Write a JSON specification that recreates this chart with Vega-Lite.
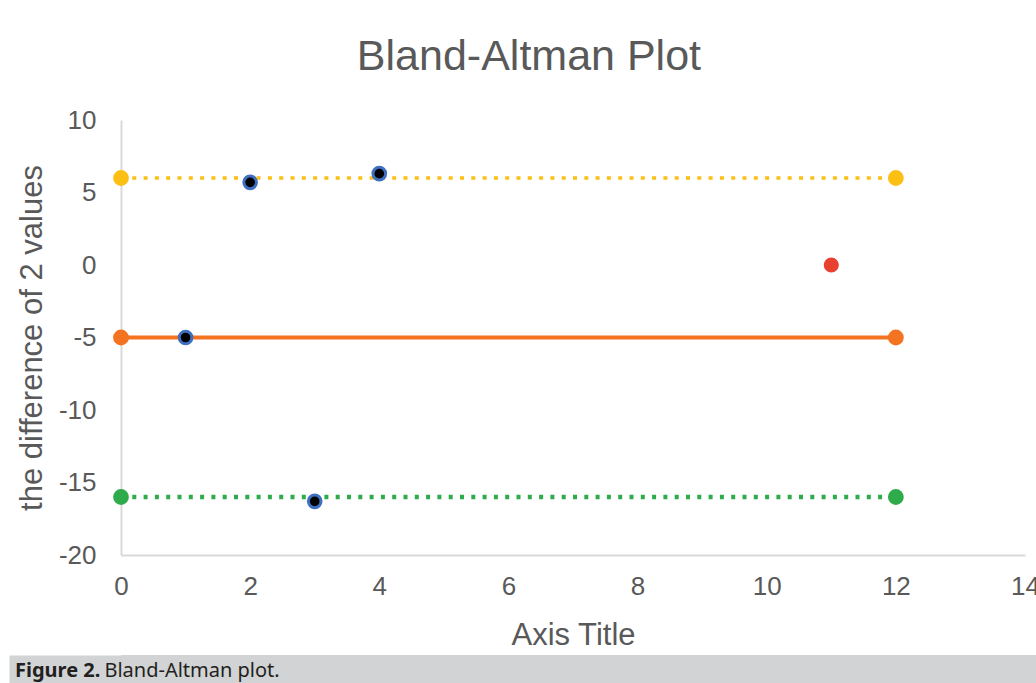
{
  "$schema": "https://vega.github.io/schema/vega-lite/v6.json",
  "background": "white",
  "padding": {"left": 8, "top": 36, "right": 0, "bottom": 0},
  "columns": 1,
  "spacing": 5,
  "config": {
    "view": {"stroke": null},
    "font": "Liberation Sans"
  },
  "title": {
    "text": "Bland-Altman plot.",
    "orient": "bottom",
    "anchor": "start",
    "frame": "bounds",
    "dx": 96,
    "offset": -25,
    "font": "Noto Sans",
    "fontSize": 20,
    "fontWeight": "normal",
    "color": "#231f20"
  },
  "datasets": {
    "bands": [
      {"band": "Upper limit", "x": 0, "y": 6},
      {"band": "Upper limit", "x": 12, "y": 6},
      {"band": "Mean", "x": 0, "y": -5},
      {"band": "Mean", "x": 12, "y": -5},
      {"band": "Lower limit", "x": 0, "y": -16},
      {"band": "Lower limit", "x": 12, "y": -16}
    ],
    "diffs": [
      {"x": 1, "y": -5},
      {"x": 2, "y": 5.7},
      {"x": 3, "y": -16.3},
      {"x": 4, "y": 6.3}
    ],
    "extra": [
      {"x": 11, "y": 0}
    ],
    "caption": [
      {"label": "caption"}
    ]
  },
  "concat": [
    {
      "width": 904,
      "height": 435,
      "title": {
        "text": "Bland-Altman Plot",
        "font": "Liberation Sans",
        "fontSize": 43,
        "fontWeight": "normal",
        "color": "#595959",
        "anchor": "middle",
        "frame": "bounds",
        "dx": 5,
        "offset": 28
      },
      "encoding": {
        "x": {
          "field": "x",
          "type": "quantitative",
          "scale": {"domain": [0, 14], "nice": false, "zero": false},
          "axis": {
            "title": "Axis Title",
            "values": [0, 2, 4, 6, 8, 10, 12, 14],
            "labelExpr": "'' + datum.value",
            "grid": false,
            "ticks": false,
            "domainColor": "#d9d9d9",
            "domainWidth": 2,
            "labelFont": "Liberation Sans",
            "labelFontSize": 26,
            "labelColor": "#595959",
            "labelPadding": 18,
            "labelFlush": false,
            "labelOverlap": false,
            "titleFont": "Liberation Sans",
            "titleFontSize": 31,
            "titleFontWeight": "normal",
            "titleColor": "#595959",
            "titlePadding": 21
          }
        },
        "y": {
          "field": "y",
          "type": "quantitative",
          "scale": {"domain": [-20, 10], "nice": false, "zero": false},
          "axis": {
            "title": [" ", "the difference of 2 values"],
            "titleLineHeight": 8,
            "values": [-20, -15, -10, -5, 0, 5, 10],
            "labelExpr": "'' + datum.value",
            "grid": false,
            "ticks": false,
            "domainColor": "#d9d9d9",
            "domainWidth": 2,
            "labelFont": "Liberation Sans",
            "labelFontSize": 26,
            "labelColor": "#595959",
            "labelPadding": 25,
            "labelFlush": false,
            "labelOverlap": false,
            "titleFont": "Liberation Sans",
            "titleFontSize": 31,
            "titleFontWeight": "normal",
            "titleColor": "#595959",
            "titlePadding": 10
          }
        }
      },
      "layer": [
        {
          "data": {"name": "bands"},
          "mark": {"type": "line"},
          "encoding": {
            "detail": {"field": "band"},
            "color": {
              "field": "band",
              "type": "nominal",
              "scale": {"domain": ["Upper limit", "Mean", "Lower limit"], "range": ["#fcbf14", "#f37321", "#2eac4c"]},
              "legend": null
            },
            "strokeDash": {
              "field": "band",
              "type": "nominal",
              "scale": {"domain": ["Upper limit", "Mean", "Lower limit"], "range": [[4, 7.3], [1, 0], [4, 7.3]]},
              "legend": null
            },
            "strokeWidth": {
              "field": "band",
              "type": "nominal",
              "scale": {"domain": ["Upper limit", "Mean", "Lower limit"], "range": [3.5, 4.5, 3.5]},
              "legend": null
            }
          }
        },
        {
          "data": {"name": "bands"},
          "mark": {"type": "point", "filled": true, "opacity": 1, "size": 250},
          "encoding": {
            "color": {"field": "band", "type": "nominal", "legend": null}
          }
        },
        {
          "data": {"name": "diffs"},
          "mark": {"type": "point", "filled": true, "opacity": 1, "size": 160, "fill": "#000000", "stroke": "#3f6fc0", "strokeWidth": 3}
        },
        {
          "data": {"name": "extra"},
          "mark": {"type": "point", "filled": true, "opacity": 1, "size": 230, "color": "#e8412f"}
        }
      ]
    },
    {
      "width": 916,
      "height": 28,
      "data": {"name": "caption"},
      "view": {"fill": "#d1d3d4", "stroke": null},
      "mark": {"type": "point", "opacity": 0},
      "encoding": {
        "y": {
          "datum": 0,
          "type": "quantitative",
          "scale": {"domain": [0, 1]},
          "axis": {
            "title": null,
            "labels": false,
            "ticks": false,
            "grid": false,
            "domain": true,
            "domainColor": "#d1d3d4",
            "domainWidth": 224,
            "domainCap": "butt"
          }
        }
      },
      "title": {
        "text": "Figure 2.",
        "orient": "bottom",
        "anchor": "start",
        "frame": "group",
        "dx": -106,
        "offset": -25,
        "font": "Noto Sans",
        "fontSize": 20,
        "fontWeight": "bold",
        "color": "#231f20"
      }
    }
  ]
}
